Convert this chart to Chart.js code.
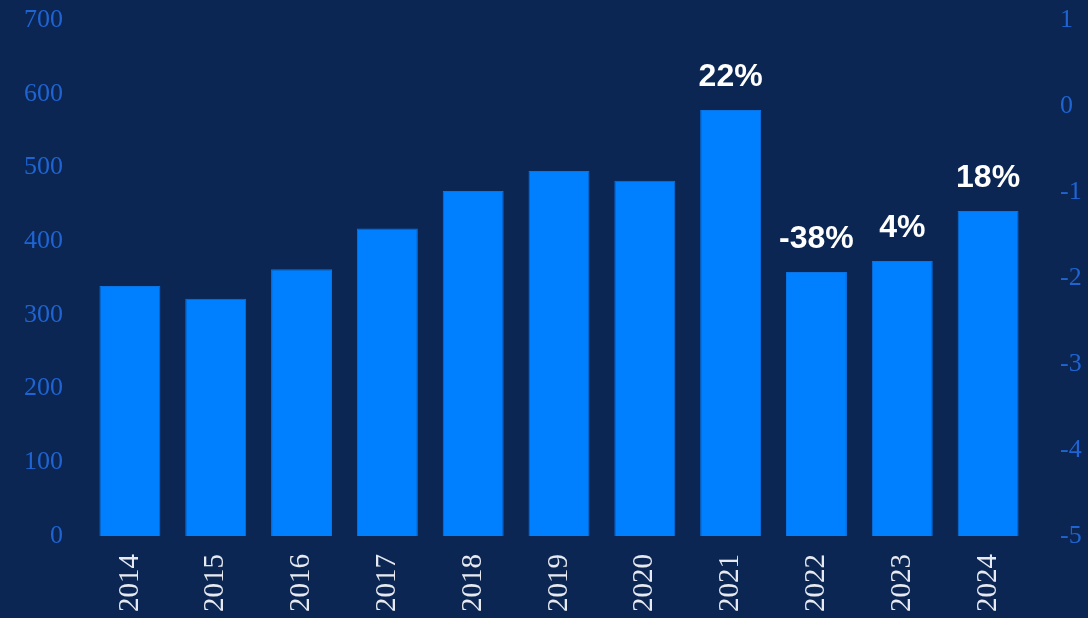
<!DOCTYPE html>
<html>
<head>
<meta charset="utf-8">
<script src="https://cdn.jsdelivr.net/npm/chart.js@4/dist/chart.umd.min.js"></script>
<style>
    html, body { margin: 0; padding: 0; background: #0b2653; }
    #wrap { width: 1088px; height: 618px; }
</style>
</head>
<body>
<div id="wrap"><canvas id="chart"></canvas></div>
<script>
const years = ['2014', '2015', '2016', '2017', '2018', '2019', '2020', '2021', '2022', '2023', '2024'];
const values = [339, 322, 362, 417, 468, 495, 482, 578, 358, 373, 441];
const changeLabels = [null, null, null, null, null, null, null, '22%', '-38%', '4%', '18%'];

const leftTicks = { min: 0, max: 700, step: 100 };
const rightTicks = { min: -5, max: 1, step: 1 };

const tickBlue = '#1f64d2';

// draws the % change text above the last bars
const changeLabelPlugin = {
    id: 'changeLabels',
    afterDatasetsDraw: function (chart) {
        const ctx = chart.ctx;
        const meta = chart.getDatasetMeta(0);
        ctx.save();
        ctx.fillStyle = '#ffffff';
        ctx.font = 'bold 32px "Liberation Sans", Arial, sans-serif';
        ctx.textAlign = 'center';
        ctx.textBaseline = 'alphabetic';
        meta.data.forEach(function (bar, i) {
            const txt = changeLabels[i];
            if (!txt) return;
            ctx.fillText(txt, bar.x, bar.y - 24);
        });
        ctx.restore();
    }
};

function fitVertical(width) {
    return function (scale) {
        scale.width = width;
        scale.paddingTop = 0;
        scale.paddingBottom = 0;
    };
}

new Chart(document.getElementById('chart').getContext('2d'), {
    type: 'bar',
    data: {
        labels: years,
        datasets: [
            {
                data: values,
                backgroundColor: '#0080ff',
                borderColor: '#0a74e6',
                borderWidth: 1,
                barPercentage: 0.71,
                categoryPercentage: 1.0,
                yAxisID: 'y'
            }
        ]
    },
    options: {
        responsive: true,
        maintainAspectRatio: false,
        animation: false,
        layout: { padding: { top: 20, right: 0, left: 0, bottom: 0 } },
        plugins: {
            legend: { display: false },
            tooltip: { enabled: false }
        },
        scales: {
            x: {
                grid: { display: false },
                border: { display: false },
                ticks: {
                    color: '#e6e9f0',
                    font: { family: '"Liberation Serif", serif', size: 29 },
                    minRotation: 90,
                    maxRotation: 90,
                    padding: 10
                },
                afterFit: function (scale) { scale.height = 82; }
            },
            y: {
                position: 'left',
                min: leftTicks.min,
                max: leftTicks.max,
                grid: { display: false },
                border: { display: false },
                ticks: {
                    stepSize: leftTicks.step,
                    color: tickBlue,
                    font: { family: '"Liberation Serif", serif', size: 26 },
                    padding: 16
                },
                afterFit: fitVertical(87)
            },
            y2: {
                position: 'right',
                min: rightTicks.min,
                max: rightTicks.max,
                grid: { display: false },
                border: { display: false },
                ticks: {
                    stepSize: rightTicks.step,
                    color: tickBlue,
                    font: { family: '"Liberation Serif", serif', size: 26 },
                    padding: 21
                },
                afterFit: fitVertical(57)
            }
        }
    },
    plugins: [changeLabelPlugin]
});
</script>
</body>
</html>
